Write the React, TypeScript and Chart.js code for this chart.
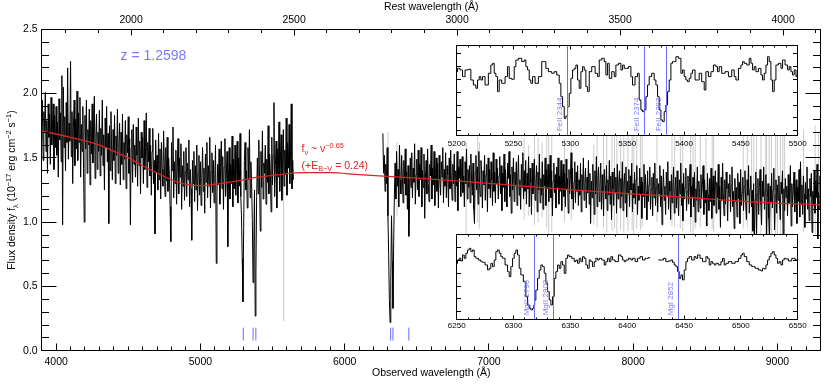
import React, { useEffect, useRef } from 'react';
import { Chart, registerables } from 'chart.js';

Chart.register(...registerables);

const FONT = '"Liberation Sans", Arial, Helvetica, sans-serif';
const BLUE_LINE = '#6c6cff';
const BLUE_TEXT = '#7a7aff';
const RED = '#dc2222';
const GRAY = '#cbcbcb';

// ---------------- main panel data ----------------
const redshift = 1.2598;
const obsMin = 3900;
const obsMax = 9300;
const fluxMin = 0;
const fluxMax = 2.5;
const obsTicks = [4000, 5000, 6000, 7000, 8000, 9000];
const restTicks = [2000, 2500, 3000, 3500, 4000];
const fluxTicks = [0, 0.5, 1.0, 1.5, 2.0, 2.5];

const specStep = 5;
const blueStart = 3900;
const blueFlux = [
  1.62,1.95,1.48,1.86,1.70,2.01,1.55,1.79,1.38,1.92,
  1.66,1.84,1.45,1.97,1.60,1.75,1.92,1.41,1.83,1.58,
  1.90,1.52,1.78,1.35,1.96,1.64,1.85,1.47,2.14,0.98,
  2.05,1.58,1.82,1.40,1.93,1.62,2.20,1.49,1.77,1.63,
  2.25,1.51,1.86,1.30,1.74,1.95,1.44,1.80,1.57,2.02,
  1.48,1.85,1.62,1.97,1.35,1.76,1.55,1.90,1.42,1.00,
  1.83,1.57,1.95,1.38,1.72,1.60,1.88,1.29,1.79,1.53,
  1.92,1.46,1.75,1.98,1.34,1.66,1.84,1.41,1.70,1.55,
  1.87,1.36,1.73,1.52,1.95,1.44,1.68,1.25,1.81,1.58,
  1.90,1.47,1.69,0.99,1.75,1.40,1.86,1.55,1.33,1.72,
  1.48,1.83,1.30,1.67,1.52,1.88,1.38,1.61,1.77,1.29,
  1.70,1.45,1.84,1.33,1.62,1.49,1.79,1.26,1.68,1.54,
  1.82,1.38,1.65,0.98,1.58,1.72,1.31,1.76,1.45,1.60,
  1.35,1.74,1.52,1.28,1.81,1.44,1.63,1.22,1.70,1.50,
  1.66,1.30,1.79,1.41,1.58,1.85,1.27,1.62,1.47,1.73,
  1.36,1.60,1.21,1.55,1.73,1.30,1.48,0.91,1.64,1.39,
  1.52,1.25,1.69,1.33,1.57,1.18,1.62,1.41,1.28,1.71,
  1.45,1.20,1.58,1.32,1.66,1.24,1.50,1.37,1.12,0.85,
  1.62,1.40,1.74,1.19,1.47,1.30,1.56,1.14,1.43,1.65,
  1.22,1.50,1.35,1.61,1.10,1.44,1.28,1.55,1.17,1.39,
  1.58,1.20,1.46,1.33,1.64,1.12,1.41,1.26,0.86,1.48,
  1.30,1.55,1.16,1.44,1.25,1.60,1.09,1.38,1.52,1.21,
  1.47,1.13,1.35,1.58,1.24,1.42,1.07,1.53,1.31,1.62,
  1.19,1.44,1.28,1.66,1.11,1.39,1.54,1.23,1.48,1.15,
  1.37,1.60,0.68,1.22,1.45,1.29,1.57,1.14,1.40,1.63,
  1.26,1.51,1.10,1.43,1.65,1.20,1.36,1.55,0.81,1.34,
  1.58,1.18,1.45,1.30,1.67,1.12,1.49,1.26,1.60,1.21,
  1.42,1.63,1.15,1.50,1.28,1.69,1.20,1.05,0.72,0.38,
  0.95,1.48,1.62,1.25,1.40,1.11,1.58,1.33,1.72,1.19,
  1.47,1.30,1.02,0.53,0.80,1.25,0.27,0.62,1.20,1.50,
  1.22,1.64,1.34,0.93,1.55,1.27,1.71,1.18,1.46,1.38,
  1.60,1.14,1.49,1.31,1.75,1.22,1.53,1.40,1.08,1.66,
  1.29,1.52,1.93,1.20,1.44,1.63,1.11,1.57,1.35,1.78,
  1.24,1.50,1.68,1.17,1.45,1.72,1.28,1.56,1.37,1.81,
  1.21,1.62,1.42,1.76,1.30,1.55,1.92,1.26,1.48,1.33,
];

const redStart = 6265;
const redFlux = [
  1.69,1.38,1.52,1.24,1.45,1.30,1.58,1.05,0.75,0.40,
  0.22,0.55,1.05,0.70,0.33,0.85,1.22,1.46,1.18,1.55,
  1.28,1.41,1.12,1.60,1.33,1.22,1.52,1.36,1.15,1.48,
  1.30,1.57,1.21,1.39,1.10,1.44,0.89,1.16,1.50,1.27,
  1.54,1.19,1.42,1.31,1.61,1.14,1.37,1.49,1.25,1.56,
  1.20,1.45,1.33,1.58,1.12,1.40,1.27,1.53,1.03,1.35,
  1.48,1.22,1.57,1.30,1.16,1.45,1.36,1.60,1.18,1.42,
  1.29,1.55,1.13,1.38,1.50,1.24,1.46,1.11,1.52,1.33,
  1.21,1.47,1.35,1.58,1.15,1.41,1.28,1.54,1.19,1.44,
  1.37,1.12,1.50,1.26,1.56,1.32,1.17,1.45,1.30,1.53,
  1.16,1.40,1.28,1.55,1.09,1.43,1.34,1.49,1.20,1.38,
  1.51,1.23,1.36,1.12,1.47,1.30,1.57,1.18,1.41,1.27,
  1.44,1.15,1.53,1.32,1.21,1.46,1.10,0.99,1.39,1.52,
  1.25,1.43,1.14,1.55,1.31,1.20,1.48,1.36,1.11,1.40,
  1.29,1.52,1.17,1.37,1.45,1.08,1.50,1.26,1.41,1.19,
  1.47,1.33,1.13,1.54,1.24,1.39,1.15,1.49,1.30,1.42,
  1.18,1.36,1.51,1.22,1.44,1.09,1.38,1.27,1.53,1.16,
  1.41,1.29,1.12,1.46,1.34,1.55,1.20,1.37,1.07,1.43,
  1.25,1.50,1.16,1.39,1.28,1.47,1.13,1.35,1.52,1.21,
  1.33,1.10,1.45,1.27,1.54,1.18,1.40,1.24,1.48,1.14,
  1.38,1.26,1.51,1.12,1.42,1.31,1.06,1.46,1.22,1.36,
  1.49,1.17,1.30,1.44,1.08,1.39,1.25,1.53,1.15,1.34,
  1.21,1.47,1.10,1.37,1.28,1.50,1.13,1.41,1.26,1.45,
  1.16,1.35,1.52,1.19,1.40,1.05,1.32,1.46,1.23,1.37,
  1.11,1.43,1.27,1.50,1.14,1.36,1.24,1.48,1.09,1.32,
  1.45,1.20,1.38,1.12,1.49,1.26,1.34,1.07,1.41,1.22,
  1.36,1.54,1.18,1.42,1.10,1.31,1.47,1.15,1.39,1.24,
  1.44,1.13,1.33,1.21,1.46,1.08,1.37,1.25,1.50,1.17,
  1.30,1.42,1.11,1.35,1.23,1.48,1.14,1.38,0.99,1.32,
  1.19,1.45,1.27,1.06,1.40,1.22,1.51,1.12,1.34,1.43,
  1.16,1.29,1.46,1.10,1.37,1.24,1.05,1.41,1.28,1.18,
  1.44,1.09,1.33,1.21,1.48,1.14,1.36,1.02,1.39,1.26,
  1.13,1.42,1.23,1.35,1.07,1.45,1.18,1.31,1.40,1.11,
  1.34,1.20,1.47,1.09,1.29,1.38,1.15,1.43,1.04,1.32,
  1.22,1.41,1.12,1.36,1.25,1.46,1.08,1.30,1.19,1.39,
  1.14,1.33,1.44,1.06,1.28,1.17,1.42,1.21,1.35,1.03,
  1.31,1.20,1.45,1.11,1.37,1.24,1.02,1.40,1.16,1.29,
  1.43,1.10,1.26,1.35,1.05,1.38,1.19,1.46,1.13,1.27,
  1.34,1.08,1.30,1.22,1.44,1.12,1.36,0.98,1.25,1.41,
  1.17,1.28,1.06,1.39,1.21,1.47,1.10,1.32,1.24,1.02,
  1.37,1.15,1.29,1.43,1.07,1.26,1.35,1.11,1.40,1.19,
  1.05,1.33,1.22,1.46,1.13,1.30,1.01,1.38,1.18,1.27,
  1.42,1.09,1.24,1.36,1.14,1.31,1.45,1.04,1.28,1.20,
  1.35,1.12,1.39,1.00,1.26,1.17,1.43,1.08,1.32,1.23,
  1.11,1.37,1.19,1.29,1.44,1.06,1.33,1.15,1.25,0.97,
  1.38,1.21,1.09,1.34,1.16,1.42,1.03,1.27,1.36,1.13,
  1.24,1.40,1.07,1.31,1.19,1.45,1.10,1.28,0.96,1.35,
  1.17,1.46,1.22,1.05,1.33,1.14,1.39,1.26,1.01,1.30,
  1.20,1.37,1.08,1.29,1.43,1.12,1.24,0.95,1.34,1.16,
  1.27,1.04,1.38,1.18,1.31,0.99,1.41,1.13,1.23,1.35,
  1.09,1.28,1.40,1.15,1.02,1.33,1.21,1.44,1.07,1.26,
  1.36,1.12,1.25,0.93,1.30,0.84,1.18,1.39,0.88,1.22,
  1.34,1.06,1.27,1.41,1.14,0.98,1.32,1.20,1.43,1.10,
  1.24,1.37,0.90,1.19,1.30,1.03,0.86,1.28,1.16,1.38,
  1.11,1.25,1.42,0.94,1.21,1.33,1.07,1.29,1.17,1.36,
  1.13,1.02,1.31,1.22,1.40,0.85,1.26,1.09,1.34,1.19,
  1.28,1.05,1.37,1.15,1.23,1.44,0.97,1.30,1.12,1.25,
  1.39,1.08,1.20,1.33,0.99,1.27,1.16,1.41,1.04,1.47,
  1.14,1.29,1.06,1.36,1.22,0.96,1.31,1.18,1.43,1.10,
  1.26,1.01,1.34,1.20,1.38,0.92,1.24,1.13,1.40,1.07,
  1.32,1.19,1.45,0.87,1.23,1.10,1.36,1.17,
];

// sky-line residuals (drawn in gray)
const skyWave = [5577, 6300, 6363, 6842, 6923, 6934, 7244, 7276, 7316, 7341, 7369, 7401, 7415, 7436, 7524, 7571, 7727, 7750, 7794, 7817, 7853, 7870, 7887, 7913, 7935, 7964, 7993, 8004, 8025, 8050, 8062, 8165, 8269, 8288, 8327, 8344, 8399, 8415, 8430, 8465, 8505, 8548, 8558, 8763, 8791, 8821, 8836, 8855, 8886, 8919, 8925, 8943, 8958, 8988, 9001, 9021, 9038, 9050, 9181, 9262, 9285];
const skyHigh = [1.60, 1.70, 1.62, 1.62, 1.75, 1.62, 1.65, 1.60, 1.70, 1.66, 1.62, 1.80, 1.85, 1.80, 1.65, 1.62, 1.60, 1.75, 1.72, 1.85, 1.80, 1.72, 1.85, 1.78, 1.80, 1.75, 1.70, 1.68, 1.72, 1.80, 1.70, 1.78, 1.75, 1.68, 1.80, 1.72, 1.85, 1.80, 1.72, 1.70, 1.66, 1.70, 1.80, 1.70, 1.68, 1.82, 1.78, 1.80, 1.75, 1.82, 1.85, 1.80, 1.76, 1.82, 1.85, 1.80, 1.75, 1.70, 1.72, 1.75, 1.70];
const skyLow = [0.23, 1.00, 1.05, 0.91, 1.00, 0.95, 1.02, 1.05, 0.98, 1.00, 1.04, 0.95, 0.90, 0.92, 1.00, 1.02, 0.98, 0.96, 0.95, 0.92, 0.93, 0.95, 0.90, 0.94, 0.92, 0.93, 0.94, 0.90, 0.95, 0.94, 0.96, 1.00, 0.97, 0.96, 0.95, 0.93, 0.92, 0.90, 0.95, 0.96, 0.98, 0.95, 0.92, 0.95, 0.96, 0.90, 0.88, 0.90, 0.88, 0.86, 0.88, 0.86, 0.90, 0.87, 0.86, 0.88, 0.90, 0.92, 0.92, 0.90, 0.92];

// power-law fit
const fitWave = [3900, 4100, 4300, 4500, 4650, 4800, 4900, 5000, 5100, 5250, 5400, 5550, 5700, 5900, 6100, 6300, 6500, 6800, 7200, 7600, 8000, 8400, 8800, 9300];
const fitFlux = [1.71, 1.66, 1.60, 1.50, 1.41, 1.33, 1.295, 1.285, 1.295, 1.32, 1.35, 1.37, 1.385, 1.385, 1.37, 1.357, 1.343, 1.32, 1.285, 1.25, 1.22, 1.19, 1.16, 1.134];

// absorber markers at bottom
const absWave = [5297.5, 5365.2, 5384.5, 6318.7, 6334.9, 6445.0];
const markerLow = 0.08;
const markerHigh = 0.18;

// ---------------- inset 1 (FeII) ----------------
const feRange = [5200, 5500];
const feYRange = [-0.09, 1.66];
const feWave = [
  5200.0,5201.5,5204.4,5205.9,5208.8,5211.7,5213.2,5216.1,5217.6,5219.1,
  5220.5,5222.0,5223.5,5226.4,5229.3,5230.8,5232.3,5233.7,5235.2,5236.7,
  5238.1,5241.1,5244.0,5245.5,5246.9,5249.9,5251.3,5252.8,5255.7,5258.7,
  5260.1,5261.6,5263.1,5264.5,5266.0,5267.5,5270.4,5273.3,5276.3,5277.7,
  5279.2,5282.1,5285.1,5286.5,5289.5,5290.9,5292.4,5293.9,5295.3,5296.8,
  5298.3,5299.7,5301.2,5302.7,5304.1,5305.6,5307.1,5308.5,5310.0,5311.5,
  5312.9,5314.4,5315.9,5317.3,5320.3,5323.2,5324.7,5326.1,5329.1,5330.5,
  5332.0,5333.5,5334.9,5337.9,5339.3,5340.8,5343.7,5345.2,5346.7,5348.1,
  5349.6,5352.5,5354.0,5355.4,5358.4,5359.8,5361.3,5362.8,5364.2,5365.7,
  5367.2,5368.6,5370.1,5373.0,5374.5,5376.0,5377.4,5378.9,5380.4,5381.8,
  5383.3,5384.8,5386.2,5387.7,5389.2,5390.6,5392.1,5393.6,5396.5,5398.0,
  5399.4,5400.9,5402.4,5403.8,5405.3,5406.8,5408.2,5411.2,5412.6,5414.1,
  5417.0,5418.5,5420.0,5422.9,5424.4,5427.3,5428.8,5430.2,5431.7,5434.6,
  5437.6,5440.5,5443.4,5444.9,5446.4,5449.3,5450.8,5452.2,5453.7,5456.6,
  5458.1,5459.6,5461.0,5462.5,5464.0,5466.9,5468.4,5469.8,5471.3,5472.8,
  5474.2,5475.7,5477.2,5478.6,5480.1,5481.6,5484.5,5486.0,5487.4,5490.4,
  5491.8,5493.3,5494.8,5496.2,5497.7,5499.2,5500.0,
];
const feFlux = [
  1.153,1.218,1.186,1.056,1.186,1.199,0.990,0.893,0.828,0.990,
  1.056,0.990,1.056,0.893,1.121,1.283,1.316,1.121,1.056,0.763,
  0.990,0.925,1.056,1.251,1.023,1.004,1.251,1.381,1.414,1.349,
  1.381,1.251,1.186,0.990,0.925,1.056,0.925,1.056,1.349,1.349,
  1.218,1.153,1.121,1.153,1.088,0.925,0.665,0.470,0.242,0.287,
  0.470,0.730,1.023,1.186,1.218,1.283,0.990,0.828,1.153,1.251,
  1.186,0.860,0.763,1.153,1.251,1.121,1.056,1.381,1.414,1.349,
  1.088,1.316,1.023,1.153,1.056,1.283,1.316,1.186,1.283,1.218,
  1.218,1.251,1.056,0.893,1.056,1.121,0.600,0.405,0.372,0.405,
  0.665,0.893,1.056,1.121,0.990,0.893,0.665,0.405,0.209,0.177,
  0.372,0.502,0.763,0.990,1.316,1.349,1.349,1.446,1.414,1.121,
  1.186,1.056,0.990,0.958,1.023,1.121,1.186,0.990,0.990,1.121,
  0.958,0.795,1.153,1.056,1.153,1.283,1.251,1.153,1.251,1.121,
  1.153,1.056,1.186,1.056,0.990,1.218,1.283,1.349,1.316,1.283,
  1.414,1.316,1.186,1.251,1.153,1.218,1.088,0.990,1.121,1.283,
  1.446,1.349,0.990,0.763,0.990,1.283,1.316,1.218,1.381,1.283,
  1.186,1.251,1.153,1.088,1.186,1.056,1.100,
];
const feLines = [5297.5, 5365.2, 5384.6];
const feLabels = ['FeII 2344', 'FeII 2374', 'FeII 2383'];

// ---------------- inset 2 (MgII / MgI) ----------------
const mgRange = [6250, 6550];
const mgYRange = [-0.15, 1.517];
const mgWave = [
  6250.0,6251.5,6252.9,6254.4,6255.9,6257.3,6258.8,6260.3,6261.7,6263.2,
  6264.7,6266.1,6267.6,6270.5,6272.0,6273.5,6276.4,6277.9,6279.3,6280.8,
  6282.3,6283.7,6285.2,6286.7,6288.1,6289.6,6291.1,6294.0,6295.5,6296.9,
  6298.4,6299.9,6301.3,6302.8,6304.3,6305.7,6307.2,6310.1,6311.6,6313.1,
  6314.5,6316.0,6317.5,6318.3,6318.9,6320.4,6321.9,6323.3,6324.8,6326.3,
  6327.7,6329.2,6330.7,6332.1,6333.6,6335.1,6336.5,6338.0,6339.5,6340.9,
  6342.4,6343.9,6345.3,6346.8,6348.3,6349.7,6352.7,6354.1,6355.6,6357.1,
  6358.5,6360.0,6361.5,6362.9,6364.4,6365.9,6367.3,6368.8,6370.3,6371.7,
  6373.2,6374.7,6376.1,6379.1,6380.5,6382.0,6383.5,6384.9,6386.4,6387.9,
  6390.8,6393.7,6395.2,6396.7,6398.1,6399.6,6402.5,6404.0,6405.5,6408.4,
  6409.9,6412.8,6414.2,6417.2,6420.1,6424.0,6427.4,6430.4,6433.3,6434.8,
  6437.7,6439.2,6440.6,6442.1,6443.6,6445.0,6446.5,6448.0,6449.4,6450.9,
  6452.4,6453.8,6455.3,6458.2,6459.7,6461.2,6462.6,6465.6,6467.0,6468.5,
  6470.0,6471.4,6472.9,6474.4,6475.8,6477.3,6478.8,6481.7,6483.2,6484.6,
  6486.1,6487.6,6490.5,6493.4,6496.4,6499.3,6500.8,6502.2,6503.7,6506.6,
  6508.1,6511.0,6514.0,6516.9,6518.4,6519.8,6521.3,6522.8,6524.2,6525.7,
  6527.2,6528.6,6530.1,6531.6,6533.0,6534.5,6536.0,6537.4,6538.9,6540.4,
  6543.3,6546.2,6549.2,6550.0,
];
const mgFlux = [
  0.944,1.009,1.042,0.990,1.107,1.042,1.140,1.205,1.237,1.172,
  1.205,1.075,1.042,1.009,0.977,0.964,0.912,0.814,0.847,0.944,
  0.879,1.009,1.172,1.205,1.140,1.075,1.042,0.912,0.782,0.684,
  0.879,1.042,1.140,1.205,1.107,0.847,0.717,0.586,0.293,0.131,
  0.066,0.033,0.066,0.131,0.228,0.424,0.651,0.814,0.912,0.879,
  0.749,0.554,0.391,0.228,0.131,0.293,0.651,0.782,0.912,0.847,
  0.977,0.912,0.749,1.042,1.107,1.075,1.042,0.977,1.009,0.944,
  1.042,0.977,1.075,1.042,0.912,0.847,1.009,0.977,0.879,0.977,
  1.042,1.009,1.042,1.009,0.912,0.977,1.042,0.977,1.075,1.009,
  0.977,1.107,1.075,1.009,0.977,1.009,1.042,1.009,1.042,0.977,
  1.042,1.075,1.009,1.042,1.055,null,1.009,1.009,1.042,0.977,
  0.990,1.009,0.964,0.912,0.879,0.782,0.651,0.717,0.619,0.814,
  0.977,1.042,1.075,1.009,1.075,1.042,1.107,1.042,0.977,0.977,
  1.075,1.042,0.912,0.977,0.944,0.912,0.944,0.912,0.977,1.042,
  0.912,0.944,0.977,0.944,0.977,1.042,1.107,1.140,1.075,0.977,
  0.912,0.879,0.847,0.814,0.795,0.847,0.834,0.912,1.009,1.075,
  1.140,1.172,1.107,1.042,0.944,0.977,0.912,1.009,1.042,1.029,
  0.990,1.042,1.009,1.009,
];
const mgLines = [6318.7, 6334.9, 6445.0];
const mgLabels = ['MgII 2796', 'MgII 2803', 'MgI 2852'];

// ---------------- helpers ----------------
function steps(a: number, b: number, s: number): number[] {
  const out: number[] = [];
  for (let v = a; v <= b + 1e-9; v += s) out.push(+v.toFixed(6));
  return out;
}

type TickSpec = { scale: string; side: 'top' | 'bottom' | 'left' | 'right'; major: number[]; minor: number[]; majLen: number; minLen: number };

function drawFrameAndTicks(chart: any, specs: TickSpec[]) {
  const { ctx, chartArea: a } = chart;
  const L = Math.floor(a.left) + 0.5;
  const R = Math.floor(a.right) + 0.5;
  const T = Math.floor(a.top) + 0.5;
  const B = Math.floor(a.bottom) + 0.5;
  ctx.save();
  ctx.strokeStyle = '#000';
  ctx.lineWidth = 1;
  ctx.beginPath();
  ctx.rect(L, T, R - L, B - T);
  for (const sp of specs) {
    const s = chart.scales[sp.scale];
    const put = (v: number, len: number) => {
      const p = s.getPixelForValue(v);
      if (sp.side === 'top' || sp.side === 'bottom') {
        if (p < a.left - 0.5 || p > a.right + 0.5) return;
        const x = Math.floor(p) + 0.5;
        if (sp.side === 'bottom') { ctx.moveTo(x, B); ctx.lineTo(x, B - len); }
        else { ctx.moveTo(x, T); ctx.lineTo(x, T + len); }
      } else {
        if (p < a.top - 0.5 || p > a.bottom + 0.5) return;
        const y = Math.floor(p) + 0.5;
        if (sp.side === 'left') { ctx.moveTo(L, y); ctx.lineTo(L + len, y); }
        else { ctx.moveTo(R, y); ctx.lineTo(R - len, y); }
      }
    };
    sp.minor.forEach((v) => put(v, sp.minLen));
    sp.major.forEach((v) => put(v, sp.majLen));
  }
  ctx.stroke();
  ctx.restore();
}

type Part = { t: string; s?: 'sub' | 'sup' };
function drawRich(ctx: CanvasRenderingContext2D, parts: Part[], x: number, y: number, size: number, align: 'left' | 'center') {
  const small = size * 0.7;
  const widths = parts.map((p) => {
    ctx.font = `${p.s ? small : size}px ${FONT}`;
    return ctx.measureText(p.t).width;
  });
  const total = widths.reduce((a, b) => a + b, 0);
  let cx = align === 'center' ? x - total / 2 : x;
  const base = y + size * 0.36;
  ctx.textAlign = 'left';
  ctx.textBaseline = 'alphabetic';
  parts.forEach((p, i) => {
    ctx.font = `${p.s ? small : size}px ${FONT}`;
    const dy = p.s === 'sup' ? -size * 0.42 : p.s === 'sub' ? size * 0.25 : 0;
    ctx.fillText(p.t, cx, base + dy);
    cx += widths[i];
  });
}

const yTitle: Part[] = [
  { t: 'Flux density f' }, { t: 'λ', s: 'sub' }, { t: ' (10' }, { t: '−17', s: 'sup' },
  { t: ' erg cm' }, { t: '−2', s: 'sup' }, { t: ' s' }, { t: '−1', s: 'sup' }, { t: ')' },
];
const fitLabel1: Part[] = [{ t: 'f' }, { t: 'ν', s: 'sub' }, { t: ' ~ ν' }, { t: '−0.65', s: 'sup' }];
const fitLabel2: Part[] = [{ t: '(+E' }, { t: 'B−V', s: 'sub' }, { t: ' = 0.24)' }];

const mainSpecs: TickSpec[] = [
  { scale: 'x', side: 'bottom', major: obsTicks, minor: steps(3900, 9300, 100), majLen: 7, minLen: 4 },
  { scale: 'x2', side: 'top', major: restTicks, minor: steps(1800, 4100, 100), majLen: 6, minLen: 3.5 },
  { scale: 'y', side: 'left', major: fluxTicks, minor: steps(0, 2.5, 0.1), majLen: 15, minLen: 7.5 },
  { scale: 'y', side: 'right', major: fluxTicks, minor: steps(0, 2.5, 0.1), majLen: 15, minLen: 7.5 },
];

const mainDecor = {
  id: 'mainDecor',
  afterDatasetsDraw(chart: any) {
    drawFrameAndTicks(chart, mainSpecs);
    const ctx: CanvasRenderingContext2D = chart.ctx;
    ctx.save();
    ctx.fillStyle = BLUE_TEXT;
    ctx.font = `14px ${FONT}`;
    ctx.textAlign = 'left';
    ctx.textBaseline = 'middle';
    ctx.fillText('z = ' + redshift.toFixed(4), 120.5, 56);
    ctx.fillStyle = RED;
    drawRich(ctx, fitLabel1, 301.5, 148.5, 10.5, 'left');
    drawRich(ctx, fitLabel2, 301.5, 165, 10.5, 'left');
    ctx.fillStyle = '#000';
    ctx.translate(11.5, (chart.chartArea.top + chart.chartArea.bottom) / 2);
    ctx.rotate(-Math.PI / 2);
    drawRich(ctx, yTitle, 0, 0, 10.5, 'center');
    ctx.restore();
  },
};

function buildMainConfig(): any {
  const spec: any[] = [];
  blueFlux.forEach((f, i) => spec.push({ x: blueStart + i * specStep, y: f }));
  spec.push({ x: 5950, y: null });
  redFlux.forEach((f, i) => spec.push({ x: redStart + i * specStep, y: f }));

  const sky: any[] = [];
  skyWave.forEach((w, i) => {
    sky.push({ x: w, y: skyLow[i] }, { x: w, y: skyHigh[i] }, { x: w, y: null });
  });

  const fit = fitWave.map((w, i) => ({ x: w, y: fitFlux[i] }));

  const marks: any[] = [];
  absWave.forEach((w) => marks.push({ x: w, y: markerLow }, { x: w, y: markerHigh }, { x: w, y: null }));

  const tickFont = { family: FONT, size: 10.5 };
  return {
    type: 'line',
    data: {
      datasets: [
        { label: 'fit', data: fit, borderColor: RED, borderWidth: 1.3, pointRadius: 0, cubicInterpolationMode: 'monotone', order: 0 },
        { label: 'spectrum', data: spec, borderColor: '#000', borderWidth: 1, pointRadius: 0, spanGaps: false, order: 1 },
        { label: 'sky', data: sky, borderColor: GRAY, borderWidth: 1, pointRadius: 0, spanGaps: false, order: 2 },
        { label: 'absorbers', data: marks, borderColor: BLUE_LINE, borderWidth: 1, pointRadius: 0, spanGaps: false, order: 3 },
      ],
    },
    options: {
      responsive: false,
      animation: false,
      devicePixelRatio: 1,
      events: [],
      layout: { padding: { left: 0, right: 9.3, top: 0, bottom: 0 } },
      plugins: { legend: { display: false }, tooltip: { enabled: false } },
      scales: {
        x: {
          type: 'linear', position: 'bottom', min: obsMin, max: obsMax,
          afterBuildTicks: (s: any) => { s.ticks = obsTicks.map((v) => ({ value: v })); },
          afterFit: (s: any) => { s.height = 39.2; },
          grid: { display: false, drawTicks: false },
          border: { display: false },
          ticks: { font: tickFont, color: '#000', padding: 5.2, maxRotation: 0, autoSkip: false, callback: (v: any) => String(v) },
          title: { display: true, text: 'Observed wavelength (Å)', font: tickFont, color: '#000', padding: { top: 0, bottom: 10.7 } },
        },
        x2: {
          type: 'linear', position: 'top', min: obsMin / (1 + redshift), max: obsMax / (1 + redshift),
          afterBuildTicks: (s: any) => { s.ticks = restTicks.map((v) => ({ value: v })); },
          afterFit: (s: any) => { s.height = 29.3; },
          grid: { display: false, drawTicks: false },
          border: { display: false },
          ticks: { font: tickFont, color: '#000', padding: 3, maxRotation: 0, autoSkip: false, callback: (v: any) => String(v) },
          title: { display: true, text: 'Rest wavelength (Å)', font: tickFont, color: '#000', padding: { top: 1.2, bottom: 0 } },
        },
        y: {
          type: 'linear', position: 'left', min: fluxMin, max: fluxMax,
          afterBuildTicks: (s: any) => { s.ticks = fluxTicks.map((v) => ({ value: v })); },
          afterFit: (s: any) => { s.width = 41.7; },
          grid: { display: false, drawTicks: false },
          border: { display: false },
          ticks: { font: tickFont, color: '#000', padding: 4, autoSkip: false, callback: (v: any) => Number(v).toFixed(1) },
        },
      },
    },
    plugins: [mainDecor],
  };
}

type InsetDef = {
  wave: number[]; flux: (number | null)[]; xRange: number[]; yRange: number[];
  yTicks: number[]; lines: number[]; labels: string[];
  pad: { left: number; right: number; top: number }; axisH: number; labelPad: number;
};

function buildInsetConfig(d: InsetDef): any {
  const pts = d.wave.map((w, i) => ({ x: w, y: d.flux[i] }));
  const xMajor = steps(d.xRange[0], d.xRange[1], 50);
  const xMinor = steps(d.xRange[0], d.xRange[1], 10);
  const specs: TickSpec[] = [
    { scale: 'x', side: 'bottom', major: xMajor, minor: xMinor, majLen: 4, minLen: 2 },
    { scale: 'x', side: 'top', major: xMajor, minor: xMinor, majLen: 4, minLen: 2 },
    { scale: 'y', side: 'left', major: d.yTicks, minor: [], majLen: 4.5, minLen: 0 },
    { scale: 'y', side: 'right', major: d.yTicks, minor: [], majLen: 4.5, minLen: 0 },
  ];
  const decor = {
    id: 'insetDecor',
    beforeDraw(chart: any) {
      const { ctx, chartArea: a } = chart;
      ctx.save();
      ctx.fillStyle = '#fff';
      ctx.fillRect(a.left, a.top, a.right - a.left, a.bottom - a.top);
      ctx.restore();
    },
    afterDatasetsDraw(chart: any) {
      const { ctx, chartArea: a } = chart;
      const xs = chart.scales.x;
      ctx.save();
      ctx.strokeStyle = BLUE_LINE;
      ctx.lineWidth = 1;
      ctx.fillStyle = BLUE_TEXT;
      ctx.font = `8px ${FONT}`;
      d.lines.forEach((w, i) => {
        const x = Math.floor(xs.getPixelForValue(w)) + 0.5;
        ctx.beginPath();
        ctx.moveTo(x, a.top);
        ctx.lineTo(x, a.bottom);
        ctx.stroke();
        ctx.save();
        ctx.translate(x - 5.5, a.bottom - 4);
        ctx.rotate(-Math.PI / 2);
        ctx.textAlign = 'left';
        ctx.textBaseline = 'alphabetic';
        ctx.fillText(d.labels[i], 0, 0);
        ctx.restore();
      });
      ctx.restore();
      drawFrameAndTicks(chart, specs);
    },
  };
  return {
    type: 'line',
    data: {
      datasets: [
        { data: pts, borderColor: '#000', borderWidth: 1, pointRadius: 0, stepped: 'middle', spanGaps: false },
      ],
    },
    options: {
      responsive: false,
      animation: false,
      devicePixelRatio: 1,
      events: [],
      layout: { padding: { left: d.pad.left, right: d.pad.right, top: d.pad.top, bottom: 0 } },
      plugins: { legend: { display: false }, tooltip: { enabled: false } },
      scales: {
        x: {
          type: 'linear', position: 'bottom', min: d.xRange[0], max: d.xRange[1],
          afterBuildTicks: (s: any) => { s.ticks = xMajor.map((v) => ({ value: v })); },
          afterFit: (s: any) => { s.height = d.axisH; },
          grid: { display: false, drawTicks: false },
          border: { display: false },
          ticks: { font: { family: FONT, size: 8 }, color: '#000', padding: d.labelPad, maxRotation: 0, autoSkip: false, callback: (v: any) => String(v) },
        },
        y: { type: 'linear', display: false, min: d.yRange[0], max: d.yRange[1] },
      },
    },
    plugins: [decor],
  };
}

const feInset: InsetDef = {
  wave: feWave, flux: feFlux, xRange: feRange, yRange: feYRange,
  yTicks: [0, 0.25, 0.5, 0.75, 1.0, 1.25, 1.5], lines: feLines, labels: feLabels,
  pad: { left: 16.7, right: 17.3, top: 5.7 }, axisH: 19.7, labelPad: 3.6,
};
const mgInset: InsetDef = {
  wave: mgWave, flux: mgFlux, xRange: mgRange, yRange: mgYRange,
  yTicks: [0, 0.25, 0.5, 0.75, 1.0, 1.25], lines: mgLines, labels: mgLabels,
  pad: { left: 16.7, right: 17.3, top: 6 }, axisH: 18.7, labelPad: 1.9,
};

export default function App() {
  const mainRef = useRef<HTMLCanvasElement>(null);
  const feRef = useRef<HTMLCanvasElement>(null);
  const mgRef = useRef<HTMLCanvasElement>(null);

  useEffect(() => {
    Chart.defaults.font.family = FONT;
    const charts = [
      new Chart(mainRef.current as HTMLCanvasElement, buildMainConfig()),
      new Chart(feRef.current as HTMLCanvasElement, buildInsetConfig(feInset)),
      new Chart(mgRef.current as HTMLCanvasElement, buildInsetConfig(mgInset)),
    ];
    return () => charts.forEach((c) => c.destroy());
  }, []);

  return (
    <div style={{ position: 'fixed', left: 0, top: 0, width: 830, height: 390, background: '#fff', overflow: 'hidden' }}>
      <canvas ref={mainRef} width={830} height={390} style={{ position: 'absolute', left: 0, top: 0, width: 830, height: 390 }} />
      <canvas ref={feRef} width={375} height={115} style={{ position: 'absolute', left: 440, top: 40, width: 375, height: 115 }} />
      <canvas ref={mgRef} width={375} height={110} style={{ position: 'absolute', left: 440, top: 228, width: 375, height: 110 }} />
    </div>
  );
}
